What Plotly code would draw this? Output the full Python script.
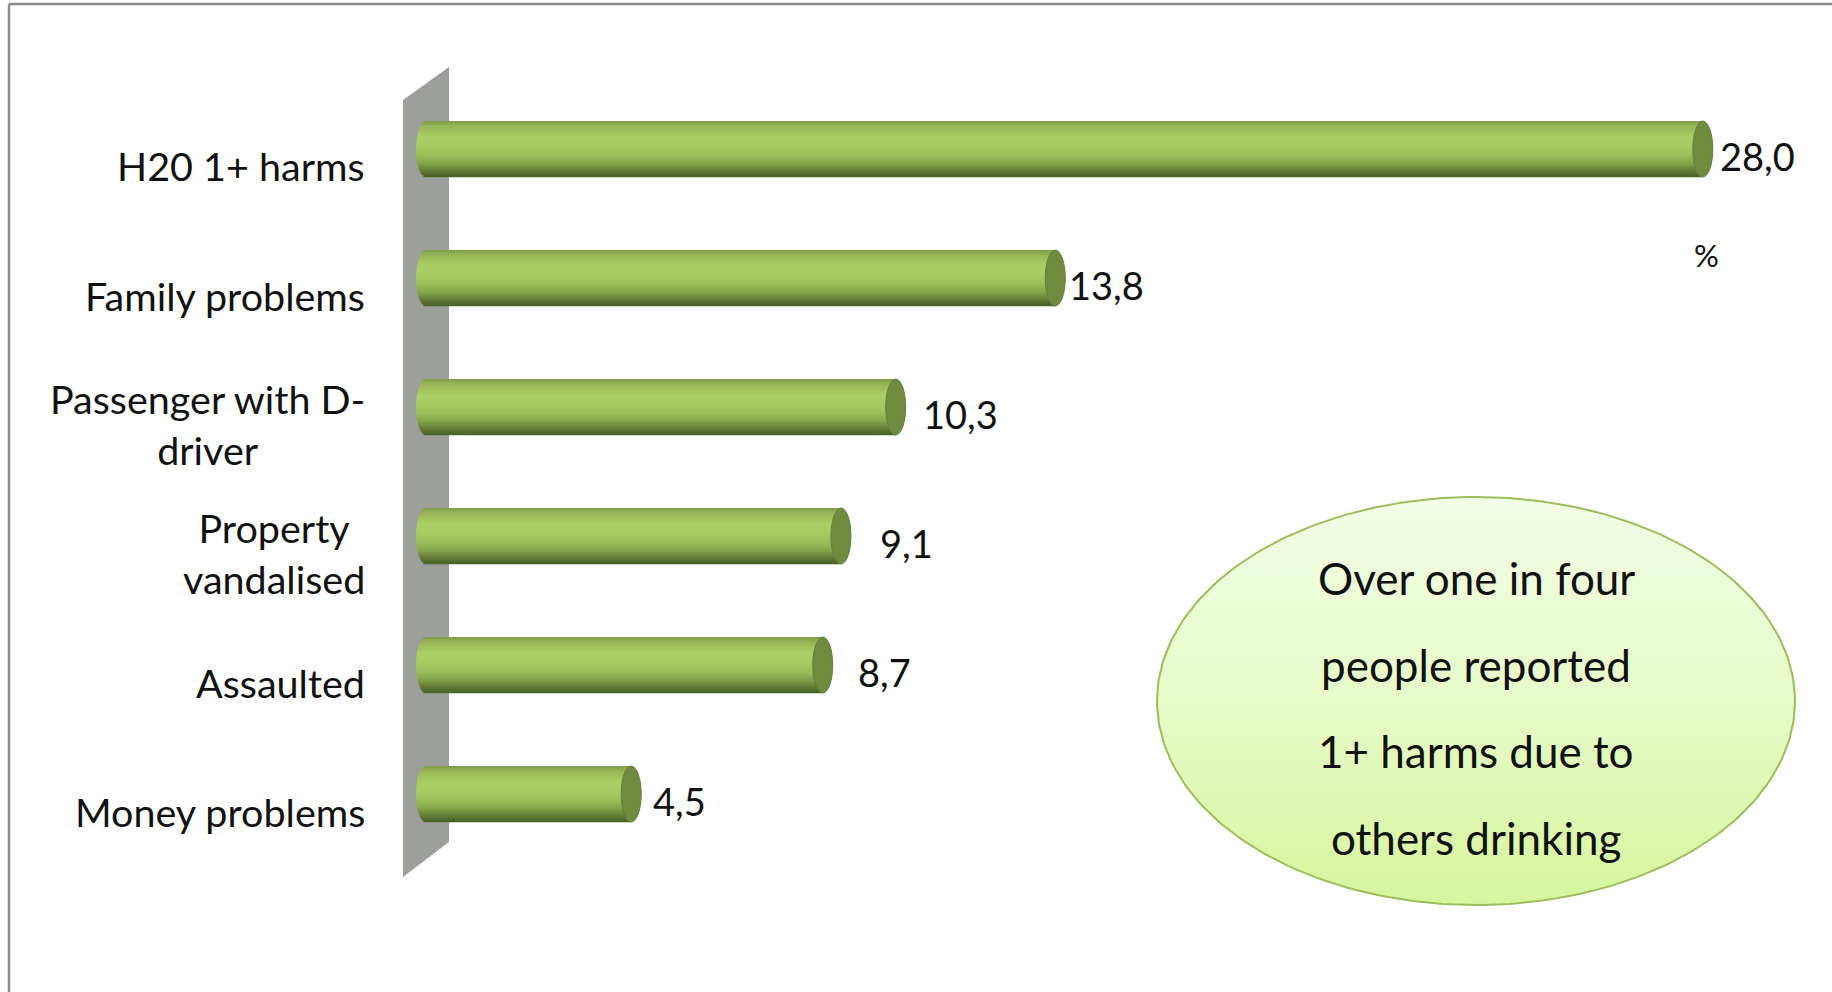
import numpy as np
import plotly.graph_objects as go

# Share of people reporting each harm from others' drinking (%)
categories = ["H20 1+ harms", "Family problems", "Passenger with D-driver",
              "Property vandalised", "Assaulted", "Money problems"]
tick_text = ["H20 1+ harms", "Family problems", "Passenger with D-<br>driver",
             "Property<br>vandalised", "Assaulted", "Money problems"]
values = [28.0, 13.8, 10.3, 9.1, 8.7, 4.5]
unit_label = "%"
callout_lines = ["Over one in four", "people reported", "1+ harms due to", "others drinking"]

W, H = 1832, 992
FONT = "Lato"
INK = "#111111"

# axis geometry (pixels)
X0_PX, PX_PER_UNIT = 426.0, 45.6
Y0_PX, PX_PER_ROW = 149.0, 129.0
X_RANGE = [-1.0, 30.0]
Y_RANGE = [6.0, -1.0]

def x_dom():
    a = X0_PX + X_RANGE[0] * PX_PER_UNIT
    b = X0_PX + X_RANGE[1] * PX_PER_UNIT
    return [a / W, b / W]

def y_dom():
    top = Y0_PX + Y_RANGE[1] * PX_PER_ROW
    bot = Y0_PX + Y_RANGE[0] * PX_PER_ROW
    return [1 - bot / H, 1 - top / H]

HALF_T = 0.217                 # half thickness of a cylinder (row units)
CAP_R = 10.0 / PX_PER_UNIT     # horizontal radius of the elliptic ends
N_STRIPES = 28

# per-label horizontal nudges of the value labels (px)
label_nudge = [-5, -8, 5, 17, 13, 0]

# vertical shading of the cylinders (top -> bottom)
shade_stops = [(0.00, (0x84, 0xA0, 0x4B)), (0.08, (0x98, 0xB7, 0x57)),
               (0.28, (0xAA, 0xCF, 0x64)), (0.45, (0xA7, 0xCB, 0x61)),
               (0.62, (0x9A, 0xBE, 0x59)), (0.76, (0x86, 0xA7, 0x4A)),
               (0.88, (0x66, 0x82, 0x3A)), (1.00, (0x4B, 0x64, 0x2A))]

def shade(f):
    for (f0, c0), (f1, c1) in zip(shade_stops[:-1], shade_stops[1:]):
        if f0 <= f <= f1:
            u = (f - f0) / (f1 - f0) if f1 > f0 else 0
            c = [round(a + (b - a) * u) for a, b in zip(c0, c1)]
            return "rgb({},{},{})".format(*c)
    return "rgb(75,100,42)"

fig = go.Figure()

# base bars
fig.add_trace(go.Bar(
    x=values, y=categories, orientation="h", width=2 * HALF_T,
    marker=dict(color=shade(0.5), line=dict(width=0)),
    hoverinfo="skip", showlegend=False, name="Harms",
))

# shading stripes with rounded left end
h = 2 * HALF_T / N_STRIPES
for k in range(N_STRIPES):
    t = (-HALF_T + (k + 0.5) * h) / HALF_T
    r = CAP_R * np.sqrt(max(0.0, 1 - t * t))
    fig.add_trace(go.Bar(
        x=[v + r for v in values], y=categories, orientation="h",
        base=[-r] * len(values), offset=-HALF_T + k * h, width=h * 1.08,
        marker=dict(color=shade(k / (N_STRIPES - 1)), line=dict(width=0)),
        hoverinfo="skip", showlegend=False,
    ))

shapes = []
# grey back wall
shapes.append(dict(
    type="path", xref="x", yref="y", layer="below",
    path="M -0.504,-0.380 L 0.504,-0.636 L 0.504,5.372 L -0.504,5.643 Z",
    fillcolor="#9d9f9b", line=dict(width=0),
))
# elliptic end caps
for i, v in enumerate(values):
    shapes.append(dict(
        type="circle", xref="x", yref="y", layer="above",
        x0=v - CAP_R, x1=v + CAP_R, y0=i - HALF_T, y1=i + HALF_T,
        fillcolor="#6f8b40", line=dict(color="#62803a", width=1),
    ))
# outer frame (pixel axes)
shapes.append(dict(type="line", xref="x2", yref="y2", x0=9, x1=W, y0=4, y1=4,
                   line=dict(color="#8a8a8a", width=2.5)))
shapes.append(dict(type="line", xref="x2", yref="y2", x0=9, x1=9, y0=4, y1=H,
                   line=dict(color="#8a8a8a", width=2.5)))

# callout ellipse on the pixel axes
cx, cy, rx, ry = 1476.0, 701.0, 319.0, 204.0
th = np.linspace(0, 2 * np.pi, 241)
fig.add_trace(go.Scatter(
    x=cx + rx * np.cos(th), y=cy + ry * np.sin(th), xaxis="x2", yaxis="y2",
    mode="lines", fill="toself", line=dict(color="#9cbe5a", width=2),
    fillgradient=dict(type="vertical",
                      colorscale=[[0, "#d6f69e"], [0.5, "#e6fbc8"], [1, "#f2fde6"]]),
    hoverinfo="skip", showlegend=False,
))

annotations = []
# category labels
for cat, txt in zip(categories, tick_text):
    annotations.append(dict(
        xref="paper", yref="y", x=367 / W, y=cat, xanchor="right", yanchor="middle",
        yshift=-17, text=txt, align="center", showarrow=False,
        font=dict(family=FONT, size=39.5, color=INK),
    ))
# value labels
for cat, v, dx in zip(categories, values, label_nudge):
    annotations.append(dict(
        xref="x", yref="y", x=v, y=cat, xanchor="left", yanchor="middle",
        xshift=20 + dx, yshift=-7, text=f"{v:.1f}".replace(".", ","), showarrow=False,
        font=dict(family=FONT, size=38, color=INK),
    ))
# unit label
annotations.append(dict(
    xref="x2", yref="y2", x=1706, y=255, text=unit_label, showarrow=False,
    xanchor="center", yanchor="middle", font=dict(family=FONT, size=31, color=INK),
))
# callout text
for j, line in enumerate(callout_lines):
    annotations.append(dict(
        xref="x2", yref="y2", x=cx, y=578 + 86.7 * j, text=line, showarrow=False,
        xanchor="center", yanchor="middle", font=dict(family=FONT, size=44, color=INK),
    ))

fig.update_layout(
    width=W, height=H, autosize=False,
    margin=dict(l=0, r=0, t=0, b=0, pad=0),
    paper_bgcolor="white", plot_bgcolor="rgba(0,0,0,0)",
    barmode="overlay", showlegend=False,
    xaxis=dict(domain=x_dom(), range=X_RANGE, visible=False, fixedrange=True),
    yaxis=dict(domain=y_dom(), range=Y_RANGE, type="category",
               categoryorder="array", categoryarray=categories,
               visible=False, fixedrange=True),
    xaxis2=dict(domain=[0, 1], range=[0, W], visible=False, anchor="y2", fixedrange=True),
    yaxis2=dict(domain=[0, 1], range=[H, 0], visible=False, anchor="x2", fixedrange=True),
    shapes=shapes, annotations=annotations,
    font=dict(family=FONT, color=INK),
)

fig.write_html("out.html", config={"displayModeBar": False})
